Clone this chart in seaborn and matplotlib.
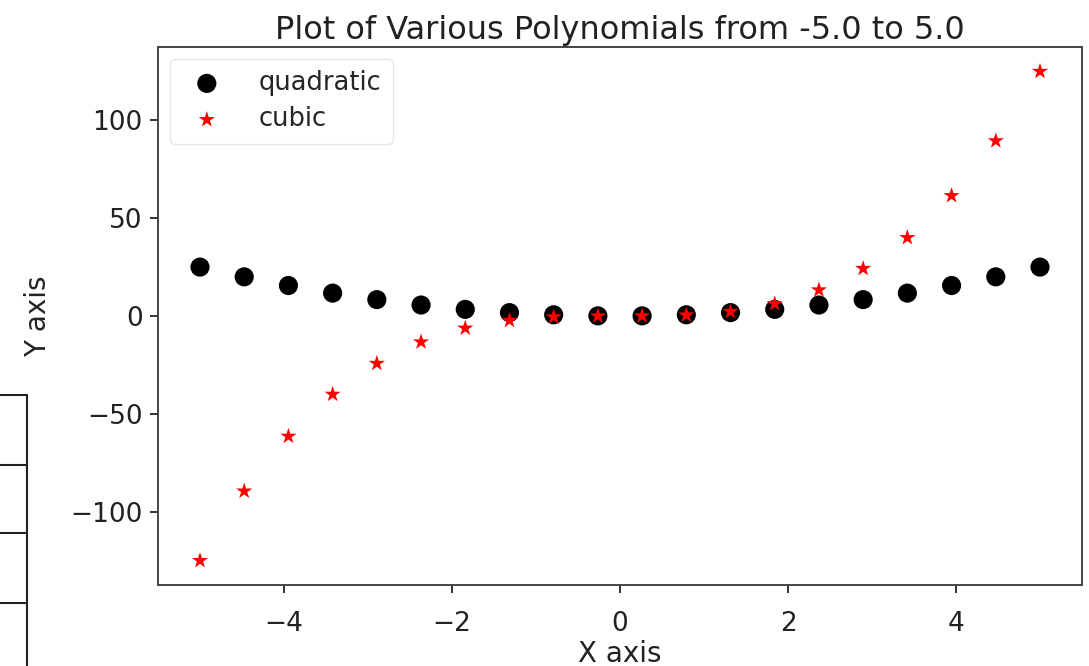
import matplotlib
matplotlib.use("Agg")
import matplotlib.pyplot as plt
from matplotlib.lines import Line2D
import seaborn as sns

# Sample points on [-5, 5]
x_vals = [-5.0, -4.4737, -3.9474, -3.4211, -2.8947, -2.3684, -1.8421, -1.3158,
          -0.7895, -0.2632, 0.2632, 0.7895, 1.3158, 1.8421, 2.3684, 2.8947,
          3.4211, 3.9474, 4.4737, 5.0]
quadratic_vals = [25.0, 20.01, 15.58, 11.70, 8.38, 5.61, 3.39, 1.73, 0.62, 0.07,
                  0.07, 0.62, 1.73, 3.39, 5.61, 8.38, 11.70, 15.58, 20.01, 25.0]
cubic_vals = [-125.0, -89.53, -61.51, -40.04, -24.26, -13.29, -6.25, -2.28, -0.49, -0.02,
              0.02, 0.49, 2.28, 6.25, 13.29, 24.26, 40.04, 61.51, 89.53, 125.0]

sns.set_style("ticks")
plt.rcParams["font.family"] = ["DejaVu Sans"]

fig = plt.figure(figsize=(10.89, 6.66), dpi=100)
ax = fig.add_axes([158 / 1089, 1 - 585 / 666, (1082 - 158) / 1089, (585 - 47) / 666])

sns.scatterplot(x=x_vals, y=quadratic_vals, ax=ax, color="black", marker="o",
                s=190, edgecolor="none", label="quadratic", zorder=2)
sns.scatterplot(x=x_vals, y=cubic_vals, ax=ax, color="red", marker="*",
                s=150, edgecolor="none", label="cubic", zorder=3)

ax.set_xticks([-4, -2, 0, 2, 4])
ax.set_yticks([-100, -50, 0, 50, 100])
ax.tick_params(labelsize=19, length=6, width=1.4, color="#333333", labelcolor="#222222")
ax.tick_params(axis="x", pad=13)
ax.tick_params(axis="y", pad=5)
for sp in ax.spines.values():
    sp.set_color("#444444")
    sp.set_linewidth(1.4)

ax.set_title("Plot of Various Polynomials from -5.0 to 5.0", fontsize=23, color="#222222", pad=6)
ax.set_xlabel("X axis", fontsize=20, color="#222222", labelpad=2)
ax.set_ylabel("Y axis", fontsize=20, color="#222222", labelpad=13)

ax.legend(loc="upper left", fontsize=18.5, frameon=True, fancybox=True,
          edgecolor="#e6e6e6", framealpha=1.0, handletextpad=1.0, borderpad=0.45,
          labelspacing=0.4, borderaxespad=0.45)

# Edge of a neighbouring table on the left
for y in [395, 465, 533, 603]:
    fig.add_artist(Line2D([0, 27 / 1089], [1 - y / 666, 1 - y / 666], color="#222222", lw=1.5))
fig.add_artist(Line2D([27 / 1089, 27 / 1089], [1 - 395 / 666, 0], color="#222222", lw=1.5))

fig.savefig("out.png", dpi=100)
